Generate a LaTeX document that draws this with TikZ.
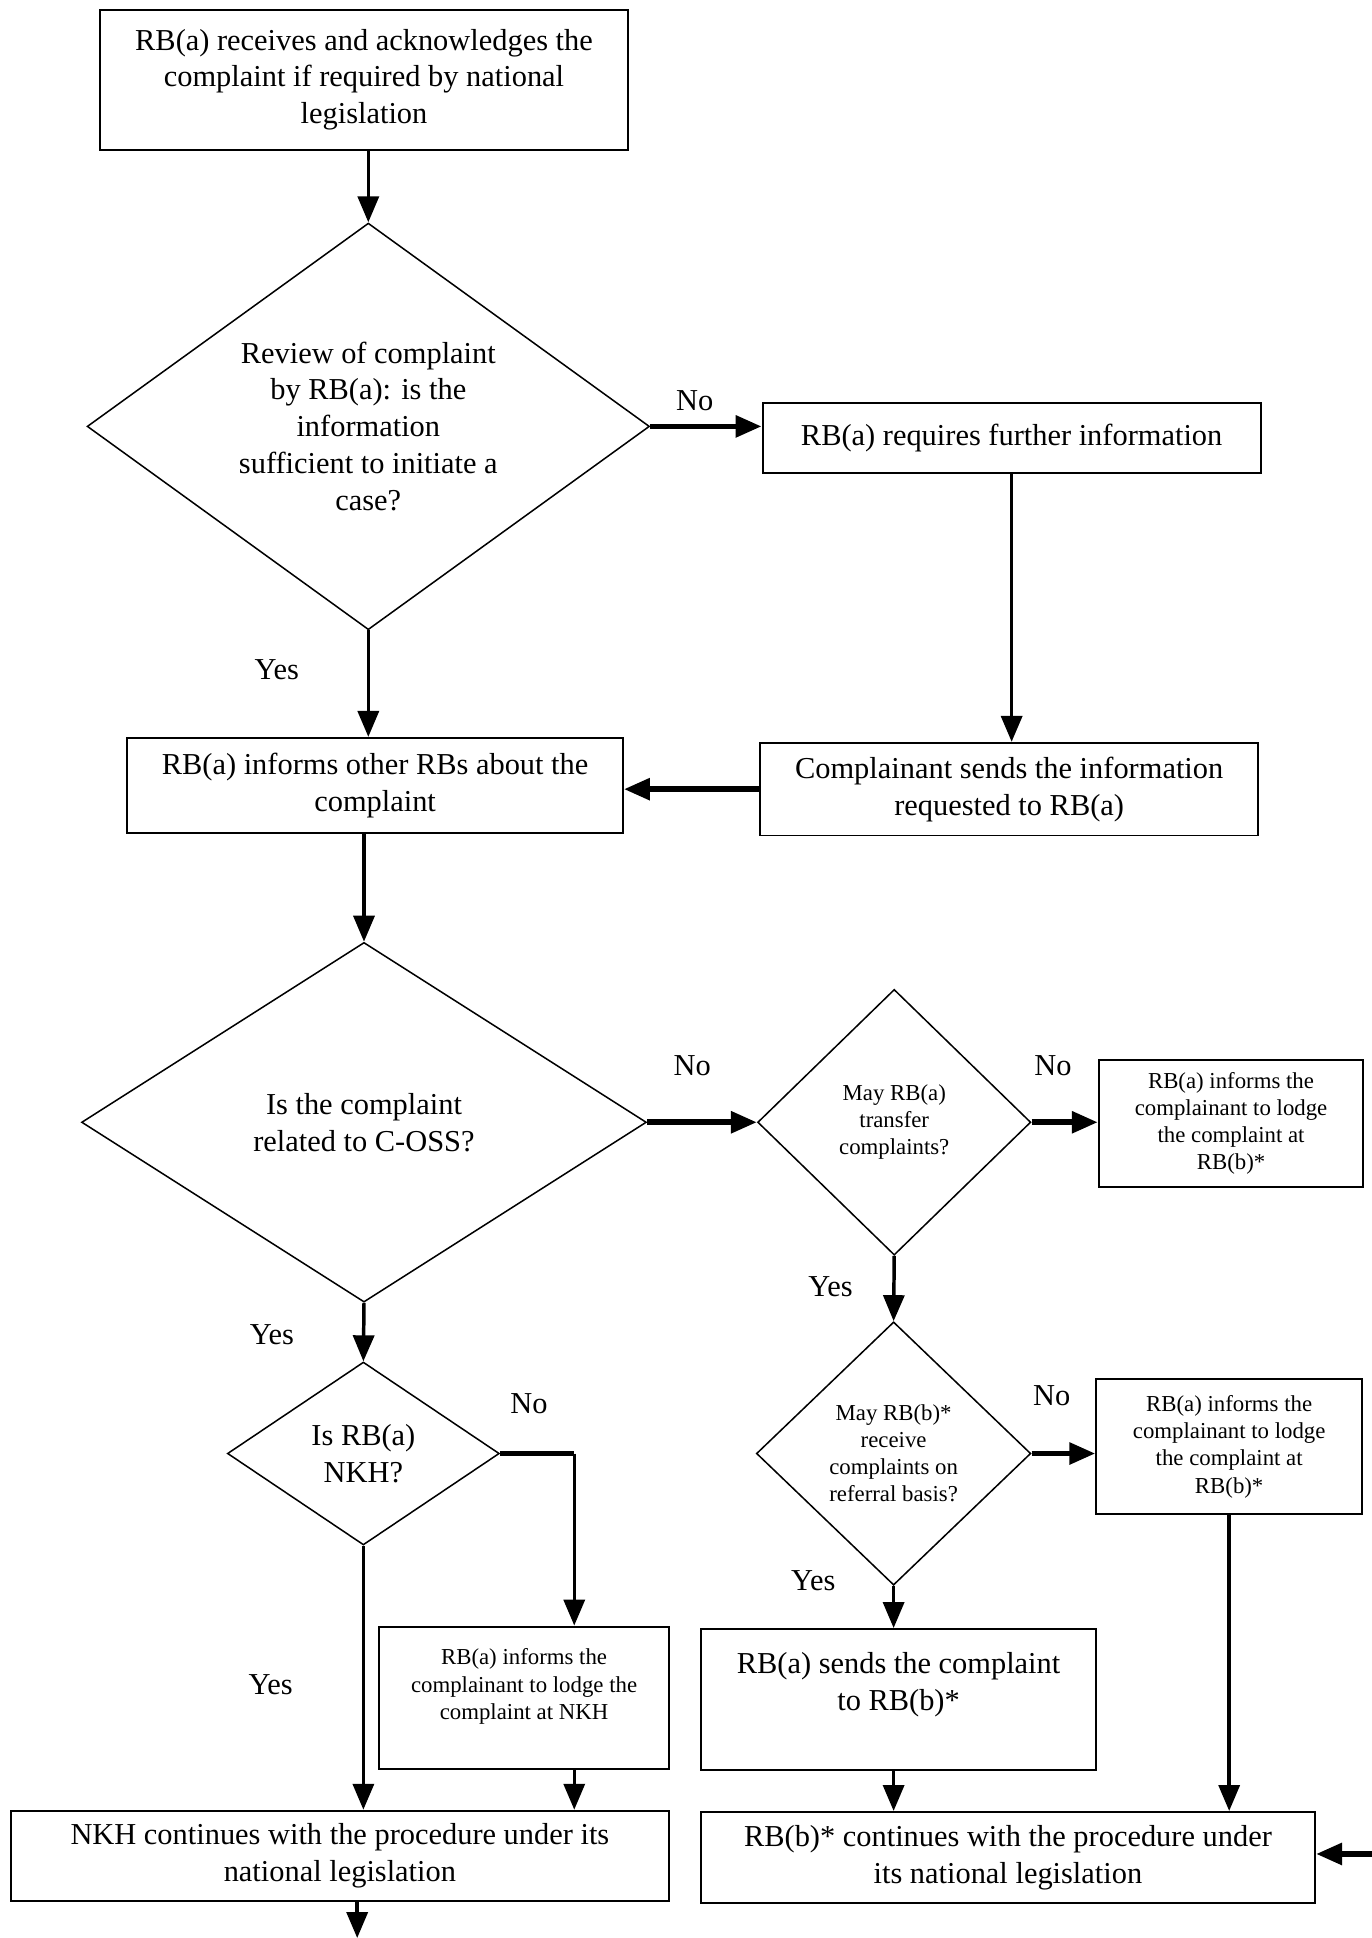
\documentclass[tikz,border=0pt]{standalone}
\usepackage{fontspec}
\setmainfont{Liberation Serif}
\usetikzlibrary{arrows.meta,shapes.geometric}

\tikzset{
  box/.style={draw,line width=0.9pt,align=center,inner sep=2pt,font=\fontsize{14}{17}\selectfont},
  smallbox/.style={box,font=\fontsize{10.5}{12.5}\selectfont},
  decision/.style={draw,diamond,line width=0.7pt,align=center,inner sep=0pt,font=\fontsize{14}{17}\selectfont},
  smalldecision/.style={decision,font=\fontsize{10.5}{12.5}\selectfont},
  flow/.style={line width=1.6pt,-{Triangle[length=0.42cm,width=0.34cm]}},
  flowthick/.style={flow,line width=2.6pt},
  answer/.style={font=\fontsize{14}{17}\selectfont}
}

\begin{document}
\begin{tikzpicture}
    \useasboundingbox (0,0) rectangle (22.2,-31.36);

    % First check of the complaint
    \node[box,minimum width=8.54cm,minimum height=2.26cm] (receive) at (5.89,-1.29)
        {RB(a) receives and acknowledges the\\complaint if required by national\\legislation};
    \node[decision,minimum width=9.1cm,minimum height=6.58cm,shape aspect=1.38] (review) at (5.96,-6.9)
        {Review of complaint\\by RB(a): is the\\information\\sufficient to initiate a\\case?};
    \node[box,minimum width=8.06cm,minimum height=1.14cm] (furtherinfo) at (16.37,-7.09)
        {RB(a) requires further information};
    \node[box,minimum width=8.06cm,minimum height=1.5cm] (sendsinfo) at (16.33,-12.77)
        {Complainant sends the information\\requested to RB(a)};
    \node[box,minimum width=8.02cm,minimum height=1.54cm] (informrbs) at (6.07,-12.71)
        {RB(a) informs other RBs about the\\complaint};

    % C-OSS branch
    \node[decision,minimum width=9.14cm,minimum height=5.82cm,shape aspect=1.57] (coss) at (5.89,-18.16)
        {Is the complaint\\related to C-OSS?};
    \node[smalldecision,minimum width=4.42cm,minimum height=4.3cm] (transfer) at (14.47,-18.16)
        {May RB(a)\\transfer\\complaints?};
    \node[smallbox,minimum width=4.28cm,minimum height=2.04cm] (lodgeone) at (19.92,-18.18)
        {RB(a) informs the\\complainant to lodge\\the complaint at\\RB(b)*};
    \node[smalldecision,minimum width=4.44cm,minimum height=4.26cm] (referral) at (14.46,-23.52)
        {May RB(b)*\\receive\\complaints on\\referral basis?};
    \node[smallbox,minimum width=4.3cm,minimum height=2.18cm] (lodgetwo) at (19.89,-23.41)
        {RB(a) informs the\\complainant to lodge\\the complaint at\\RB(b)*};
    \node[box,minimum width=6.4cm,minimum height=2.28cm] (sendsb) at (14.54,-27.5)
        {RB(a) sends the complaint\\to RB(b)*\\~};
    \node[box,minimum width=9.94cm,minimum height=1.48cm] (rbbcont) at (16.31,-30.06)
        {RB(b)* continues with the procedure under\\its national legislation};

    % NKH branch
    \node[decision,minimum width=4.4cm,minimum height=2.96cm,shape aspect=1.49] (nkh) at (5.88,-23.52)
        {Is RB(a)\\NKH?};
    \node[smallbox,minimum width=4.68cm,minimum height=2.3cm] (lodgenkh) at (8.48,-27.47)
        {RB(a) informs the\\complainant to lodge the\\complaint at NKH\\~};
    \node[box,minimum width=10.64cm,minimum height=1.46cm] (nkhcont) at (5.5,-30.03)
        {NKH continues with the procedure under its\\national legislation};

    % Free ends
    \coordinate (intorbb) at (22.2,-30.0);
    \coordinate (outnkh) at (5.78,-31.36);

    % Connectors
    \draw[flow] (review.north |- receive.south) -- (review.north);
    \draw[flowthick] (review.east) -- (review.east -| furtherinfo.west);
    \draw[flow] (furtherinfo.south) -- (furtherinfo.south |- sendsinfo.north);
    \draw[flow] (review.south) -- (review.south |- informrbs.north);
    \draw[flowthick] (sendsinfo.west) -- (sendsinfo.west -| informrbs.east);
    \draw[flow] (coss.north |- informrbs.south) -- (coss.north);
    \draw[flowthick] (coss.east) -- (transfer.west);
    \draw[flowthick] (transfer.east) -- (transfer.east -| lodgeone.west);
    \draw[flow] (transfer.south) -- (referral.north);
    \draw[flowthick] (referral.east) -- (referral.east -| lodgetwo.west);
    \draw[flow] (referral.south) -- (referral.south |- sendsb.north);
    \draw[flow] (referral.south |- sendsb.south) -- (referral.south |- rbbcont.north);
    \draw[flow] (lodgetwo.south) -- (lodgetwo.south |- rbbcont.north);
    \draw[flowthick] (intorbb) -- (intorbb -| rbbcont.east);
    \draw[flow] (coss.south) -- (nkh.north);
    \draw[flowthick,-] (nkh.east) -- ++(1.2,0) coordinate (nkhturn);
    \draw[flow] (nkhturn) -- (nkhturn |- lodgenkh.north);
    \draw[flow] (nkhturn |- lodgenkh.south) -- (nkhturn |- nkhcont.north);
    \draw[flow] (nkh.south) -- (nkh.south |- nkhcont.north);
    \draw[flow] (nkhcont.south -| outnkh) -- (outnkh);

    % Answers
    \node[answer] (no1) at (11.24,-6.48) {No};
    \node[answer] (yes1) at (4.48,-10.84) {Yes};
    \node[answer] (no2) at (11.2,-17.24) {No};
    \node[answer] (no3) at (17.04,-17.24) {No};
    \node[answer] (yes2) at (13.44,-20.82) {Yes};
    \node[answer] (no4) at (17.02,-22.58) {No};
    \node[answer] (yes3) at (13.16,-25.58) {Yes};
    \node[answer] (yes4) at (4.4,-21.6) {Yes};
    \node[answer] (no5) at (8.56,-22.72) {No};
    \node[answer] (yes5) at (4.38,-27.26) {Yes};
\end{tikzpicture}
\end{document}
